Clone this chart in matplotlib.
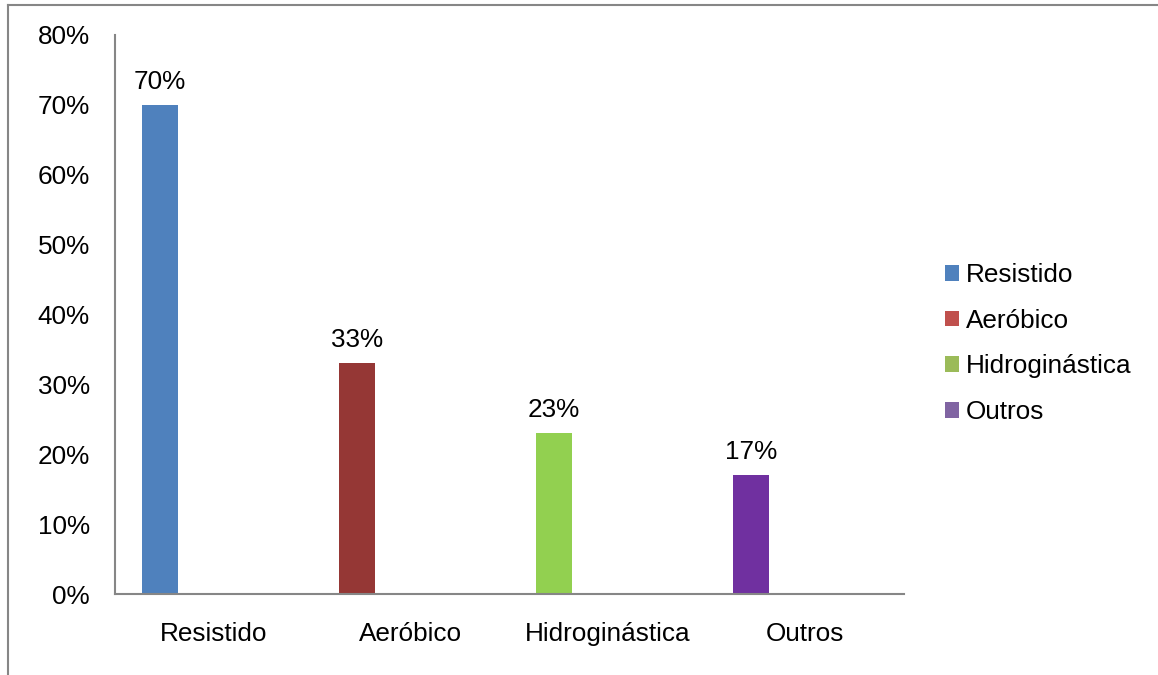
import numpy as np
import matplotlib
matplotlib.use("Agg")
from matplotlib import pyplot as plt
from matplotlib.patches import Patch
from matplotlib.lines import Line2D
from matplotlib.ticker import FuncFormatter

categories = ["Resistido", "Aeróbico", "Hidroginástica", "Outros"]
values = [0.70, 0.33, 0.23, 0.17]
bar_colors = ["#4F81BD", "#953735", "#92D050", "#7030A0"]
legend_colors = ["#4F81BD", "#C0504D", "#9BBB59", "#8064A2"]
y_ticks = [0.0, 0.1, 0.2, 0.3, 0.4, 0.5, 0.6, 0.7, 0.8]

plt.rcParams["font.family"] = ["Liberation Sans", "DejaVu Sans"]
fs = 18.8
gray = "#868686"

fig = plt.figure(figsize=(11.58, 6.75), dpi=100)
ax = fig.add_axes([115 / 1158, 1 - 594 / 675, (904 - 115) / 1158, (594 - 35) / 675])

# every bar sits in the first slot of a 4-wide cluster
w = 0.1825
n = len(categories)
for j, (v, c) in enumerate(zip(values, bar_colors)):
    x = j - (n - 1) / 2 * w
    ax.bar(x, v, w, color=c, zorder=2)
    ax.annotate("%d%%" % round(v * 100), (x, v), xytext=(0, 8),
                textcoords="offset points", ha="center", va="bottom", fontsize=fs)

ax.set_xlim(-0.5, n - 0.5)
ax.set_ylim(0, 0.8)
ax.set_xticks(range(n))
ax.set_xticklabels(categories)
ax.set_yticks(y_ticks)
ax.yaxis.set_major_formatter(FuncFormatter(lambda v, p: "%d%%" % round(v * 100)))
ax.tick_params(axis="y", length=0, pad=18, labelsize=fs)
ax.tick_params(axis="x", length=0, pad=20, labelsize=fs)
for s in ["top", "right"]:
    ax.spines[s].set_visible(False)
for s in ["left", "bottom"]:
    ax.spines[s].set_color(gray)
    ax.spines[s].set_linewidth(1.5)

handles = [Patch(facecolor=c, edgecolor="none") for c in legend_colors]
fig.legend(handles, categories, loc="center left",
           bbox_to_anchor=(945 / 1158, 1 - 343.5 / 675), frameon=False,
           fontsize=fs, handlelength=0.55, handleheight=0.55,
           handletextpad=0.25, labelspacing=0.83, borderpad=0, borderaxespad=0)

# outer chart border (cut off at right and bottom)
fig.add_artist(Line2D([8 / 1158, 8 / 1158], [0, 1 - 5 / 675], color=gray, lw=1.5))
fig.add_artist(Line2D([8 / 1158, 1], [1 - 5 / 675, 1 - 5 / 675], color=gray, lw=1.5))

fig.savefig("out.png", dpi=100)
